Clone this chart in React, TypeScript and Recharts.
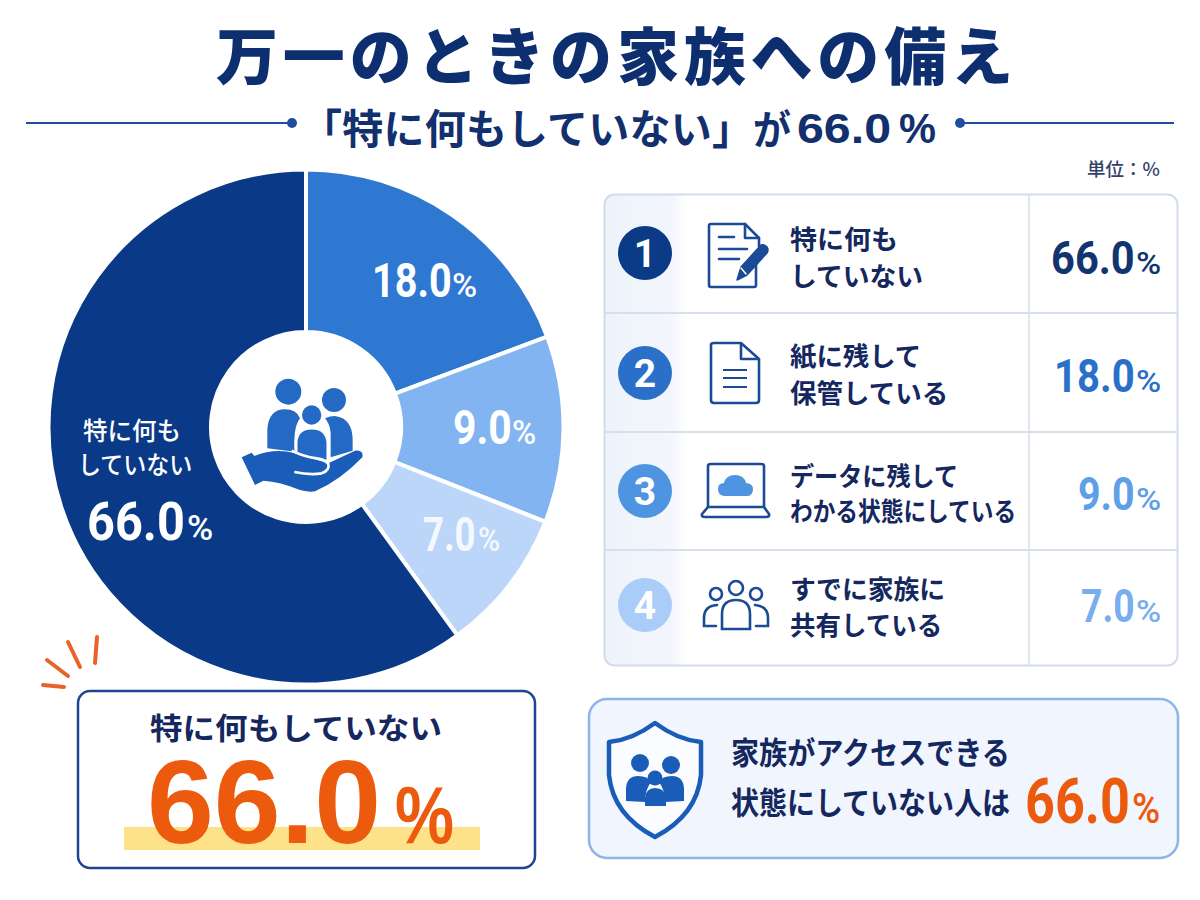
import React from 'react';
import { PieChart, Pie, Cell } from 'recharts';

const categories = ['特に何もしていない', '紙に残して保管している', 'データに残してわかる状態にしている', 'すでに家族に共有している'];
const printedValues = [66.0, 18.0, 9.0, 7.0];
// the wedges in the reference are not drawn to the printed percentages,
// so the slice sizes are read off the picture separately from the labels
const sliceShares = [60.0, 19.3, 11.7, 9.0];
const rowLabels = [
  ['特に何も', 'していない'],
  ['紙に残して', '保管している'],
  ['データに残して', 'わかる状態にしている'],
  ['すでに家族に', '共有している'],
];
const sliceColors = ['#0a3a87', '#2f78d2', '#82b4f2', '#bcd6f9'];
const badgeColors = ['#0b3a87', '#2a70c8', '#4f94e0', '#a9cdf8'];
const valueColors = ['#12346f', '#2a70c8', '#5f9fe8', '#78aeef'];

const pieOrder = [1, 2, 3, 0];
const pieData = pieOrder.map(i => ({ name: categories[i], share: sliceShares[i], fill: sliceColors[i] }));

const JP = '"Noto Sans CJK JP", "Noto Sans", sans-serif';
const NUM = 'Roboto, sans-serif';
const ARIAL = '"Liberation Sans", Arial, sans-serif';
const NAVY = '#14275e';
const ORANGE = '#ec5a0d';
const ICON = '#1b4a96';

const pct = (v: number) => v.toFixed(1);

// text squeezed with a transform; em is the natural width of the run in ems
const Squeezed: React.FC<any> = ({ x, y, size, w, em, fill = NAVY, font = JP, weight = 700, opacity, children }) => (
  <text
    transform={`translate(${x} ${y}) scale(${w / (em * size)} 1)`}
    fontSize={size}
    fontFamily={font}
    fontWeight={weight}
    fill={fill}
    opacity={opacity}
  >
    {children}
  </text>
);

// full-width japanese run: one em per character
const T: React.FC<any> = ({ children, ...rest }) => (
  <Squeezed em={String(children).length} {...rest}>
    {children}
  </Squeezed>
);

const Spaced: React.FC<any> = ({ x, y, size, w, fill, weight = 700, children }) => (
  <text x={x} y={y} fontSize={size} fontFamily={JP} fontWeight={weight} fill={fill} textLength={w} lengthAdjust="spacing">
    {children}
  </text>
);

const robotoEm = (s: string) => (s.length - 1) * 0.571 + 0.28;
const arialEm = (s: string) => (s.length - 1) * 0.556 + 0.278;

const Num: React.FC<any> = ({ v, x, px, y, size, psize, w, pw, fill, opacity }) => (
  <>
    <Squeezed x={x} y={y} size={size} w={w} em={robotoEm(pct(v))} fill={fill} font={NUM} opacity={opacity}>
      {pct(v)}
    </Squeezed>
    <Squeezed x={px} y={y} size={psize} w={pw} em={0.73} fill={fill} font={NUM} weight={500} opacity={opacity}>
      %
    </Squeezed>
  </>
);

const rowLayout = [
  { badgeY: 253, lines: [{ y: 249, w: 108 }, { y: 286, w: 134 }], val: { x: 1051, w: 83, y: 274 } },
  { badgeY: 373, lines: [{ y: 366, w: 132 }, { y: 403, w: 159 }], val: { x: 1054, w: 80, y: 392 } },
  { badgeY: 491, lines: [{ y: 486, w: 169 }, { y: 521, w: 227 }], val: { x: 1078, w: 56, y: 510 } },
  { badgeY: 605, lines: [{ y: 599, w: 155 }, { y: 635, w: 153 }], val: { x: 1081, w: 53, y: 622 } },
];

const DocPencilIcon = () => (
  <g fill="none" stroke={ICON} strokeWidth={2.6} strokeLinejoin="round" strokeLinecap="round">
    <path d="M756 264 V285 Q756 287 754 287 H711 Q709 287 709 285 V226 Q709 224 711 224 H745 L759 238 V246" />
    <path d="M745 224 V238 H759" />
    <path d="M719 237 H734 M719 249 H747 M719 259 H739" />
    <path d="M737 280 L741 267 L761 245 Q764 244 767 247 Q769 250 767 253 L747 275 Z" fill={ICON} strokeWidth={1.5} />
    <path d="M741 268 L746 274" stroke="#fff" strokeWidth={1.5} />
  </g>
);

const DocIcon = () => (
  <g fill="none" stroke={ICON} strokeWidth={2.6} strokeLinejoin="round">
    <path d="M711 345 Q711 343 714 343 H741 L759 359 V400 Q759 403 756 403 H714 Q711 403 711 400 Z" />
    <path d="M741 343 V359 H759" />
    <path d="M723 370 H747 M723 378 H747 M723 387 H747" strokeWidth={2} />
  </g>
);

const LaptopIcon = () => (
  <g fill="none" stroke={ICON} strokeWidth={2.6} strokeLinejoin="round">
    <path d="M708 507 V466 Q708 464 711 464 H761 Q764 464 764 466 V507" />
    <path d="M708 507 L702 514 Q701 517 705 517 H766 Q770 517 769 514 L764 507 Z" />
    <path d="M730 507 H742" strokeWidth={2} />
    <path
      d="M724 496 Q718 495 718 489 Q718 483 724 483 Q726 475 735 475 Q744 475 746 483 Q754 484 753 490 Q752 496 747 496 Z"
      fill="#4f94e0"
      stroke="none"
    />
  </g>
);

const PeopleIcon = () => (
  <g fill="none" stroke={ICON} strokeWidth={2.6} strokeLinecap="round">
    <circle cx={716} cy={594} r={6} />
    <circle cx={736} cy={588} r={7} />
    <circle cx={756} cy={594} r={6} />
    <path d="M722 629 V614 Q722 600 736 600 Q750 600 750 614 V629 Z" />
    <path d="M717 605 Q704 606 704 618 V626 H716" />
    <path d="M755 605 Q768 606 768 618 V626 H756" />
  </g>
);

// center icon is sketched in 3x crop coordinates
const FamilyHandIcon = () => (
  <g transform="translate(200 320) scale(0.3333)">
    <circle cx={265} cy={215} r={39} fill="#246ac4" />
    <circle cx={402} cy={240} r={36} fill="#246ac4" />
    <circle cx={335} cy={285} r={29} fill="#246ac4" />
    <path d="M202 385 V330 Q205 268 255 268 Q290 268 300 295 Q278 325 285 395 Z" fill="#246ac4" />
    <path d="M375 295 Q390 288 405 288 Q458 295 458 360 V392 L392 412 V340 Q390 312 375 295 Z" fill="#246ac4" />
    <path d="M288 405 V365 Q292 324 335 324 Q380 324 384 368 V425 Z" fill="#246ac4" stroke="#fff" strokeWidth={9} />
    <path
      d="M125 412 L155 398 L163 408 Q220 385 280 398 L385 430 L465 392 Q492 390 487 412 Q420 482 345 514 Q330 518 300 510 Q240 485 190 482 L165 495 Z"
      fill="#1a5db8"
    />
    <path d="M283 456 Q330 466 365 460 Q390 450 385 432 Q375 418 350 415 Q310 410 275 392" fill="none" stroke="#fff" strokeWidth={8} />
  </g>
);

const ShieldIcon = () => (
  <g>
    <path d="M655 723 Q632 740 609 742 V775 Q613 815 655 837 Q697 815 701 775 V742 Q678 740 655 723 Z" fill="#fafcff" stroke="#1a5db8" strokeWidth={4.5} strokeLinejoin="round" />
    <circle cx={640} cy={763} r={9} fill="#1a5db8" />
    <circle cx={671} cy={765} r={9} fill="#1a5db8" />
    <path d="M626 801 V788 Q627 776 638 776 Q648 776 651 782 Q645 790 645 802 Z" fill="#1a5db8" />
    <path d="M684 801 V788 Q683 776 672 776 Q662 776 659 782 Q665 790 665 802 Z" fill="#1a5db8" />
    <circle cx={655} cy={778} r={7.5} fill="#1a5db8" />
    <path d="M645 806 V798 Q646 788 655 788 Q665 788 666 798 V806 Z" fill="#1a5db8" />
  </g>
);

const rowIcons = [<DocPencilIcon />, <DocIcon />, <LaptopIcon />, <PeopleIcon />];

export default function App() {
  const headline = pct(printedValues[0]);
  return (
    <div style={{ position: 'absolute', left: 0, top: 0, width: 1200, height: 900, background: '#fff', overflow: 'hidden' }}>
      <div style={{ position: 'absolute', left: 0, top: 0 }}>
        <PieChart width={620} height={700} margin={{ top: 0, right: 0, bottom: 0, left: 0 }}>
          <Pie
            data={pieData}
            dataKey="share"
            nameKey="name"
            cx={306}
            cy={427}
            innerRadius={95}
            outerRadius={257.5}
            startAngle={90}
            endAngle={-270}
            stroke="#fff"
            strokeWidth={4}
            isAnimationActive={false}
          >
            {pieData.map(d => (
              <Cell key={d.name} fill={d.fill} />
            ))}
          </Pie>
        </PieChart>
      </div>

      <svg width={1200} height={900} style={{ position: 'absolute', left: 0, top: 0 }}>
        <defs>
          <linearGradient id="rankCol" x1="0" x2="1" y1="0" y2="0">
            <stop offset="0" stopColor="#eef3fb" />
            <stop offset="0.85" stopColor="#f3f6fc" />
            <stop offset="1" stopColor="#ffffff" />
          </linearGradient>
          <clipPath id="tableClip">
            <rect x={605} y={195} width={572} height={470} rx={10} />
          </clipPath>
        </defs>

        {/* heading */}
        <Spaced x={216} y={80} size={62} w={797} fill="#0d2f6f" weight={900}>万一のときの家族への備え</Spaced>
        <line x1={26} x2={290} y1={123} y2={123} stroke="#1f4e9e" strokeWidth={2} />
        <circle cx={292} cy={123} r={5} fill="#1f4e9e" />
        <line x1={962} x2={1174} y1={123} y2={123} stroke="#1f4e9e" strokeWidth={2} />
        <circle cx={960} cy={123} r={5} fill="#1f4e9e" />
        <Spaced x={301} y={144} size={41} w={452} fill="#12306e">「特に何もしていない」</Spaced>
        <T x={753} y={144} size={40} w={38} fill="#12306e">が</T>
        <Squeezed x={797} y={143} size={43} w={94} em={arialEm(headline)} fill="#12306e" font={ARIAL}>{headline}</Squeezed>
        <Squeezed x={899} y={143} size={43} w={37} em={0.889} fill="#12306e" font={ARIAL}>%</Squeezed>
        <text x={1087} y={176} fontSize={18.5} fontFamily={JP} fontWeight={500} fill="#33416a">単位：%</text>

        {/* pie labels */}
        <FamilyHandIcon />
        <Num v={printedValues[1]} x={372} px={452} y={297} size={48} psize={33} w={79} pw={25} fill="#fff" />
        <Num v={printedValues[2]} x={453} px={512} y={444} size={48} psize={33} w={58} pw={24} fill="#fff" />
        <Num v={printedValues[3]} x={423} px={478} y={551} size={48} psize={33} w={52} pw={22} fill="#fff" opacity={0.85} />
        <T x={83} y={440} size={25} w={98} fill="#fff" weight={500}>{rowLabels[0][0]}</T>
        <T x={78} y={474} size={25} w={115} fill="#fff" weight={500}>{rowLabels[0][1]}</T>
        <Num v={printedValues[0]} x={87} px={187} y={540} size={53} psize={36} w={97} pw={26} fill="#fff" />

        {/* ranking table */}
        <g clipPath="url(#tableClip)">
          <rect x={605} y={195} width={80} height={470} fill="url(#rankCol)" />
        </g>
        <rect x={604.5} y={194.5} width={573} height={471} rx={10} fill="none" stroke="#d3dcec" strokeWidth={2} />
        {[313, 432, 550].map(y => (
          <line key={y} x1={605} x2={1177} y1={y} y2={y} stroke="#d7dfed" strokeWidth={2} />
        ))}
        <line x1={1029} x2={1029} y1={195} y2={665} stroke="#d7dfed" strokeWidth={1.5} />
        {rowLayout.map((r, i) => (
          <g key={i}>
            <circle cx={645} cy={r.badgeY} r={27} fill={badgeColors[i]} />
            <text x={645} y={r.badgeY + 14} textAnchor="middle" fontSize={39} fontFamily={NUM} fontWeight={700} fill="#fff">
              {i + 1}
            </text>
            {rowIcons[i]}
            <T x={790} y={r.lines[0].y} size={26.5} w={r.lines[0].w}>{rowLabels[i][0]}</T>
            <T x={790} y={r.lines[1].y} size={26.5} w={r.lines[1].w}>{rowLabels[i][1]}</T>
            <Num v={printedValues[i]} x={r.val.x} px={1136} y={r.val.y} size={47} psize={32} w={r.val.w} pw={25} fill={valueColors[i]} />
          </g>
        ))}

        {/* callout, left */}
        <g stroke="#e8622a" strokeWidth={4} strokeLinecap="round">
          <line x1={43} y1={685} x2={64} y2={687} />
          <line x1={47} y1={660} x2={68} y2={676} />
          <line x1={68} y1={642} x2={80} y2={667} />
          <line x1={97} y1={637} x2={95} y2={663} />
        </g>
        <rect x={78} y={691} width={457} height={177} rx={12} fill="#fff" stroke="#1f4590" strokeWidth={2.5} />
        <T x={150} y={739} size={30} w={293}>{categories[0]}</T>
        <rect x={124} y={827} width={356} height={23} fill="#fde28a" />
        <Squeezed x={147} y={843} size={118} w={234} em={arialEm(headline)} fill={ORANGE} font={ARIAL}>{headline}</Squeezed>
        <Squeezed x={395} y={843} size={82} w={59} em={0.889} fill={ORANGE} font={ARIAL}>%</Squeezed>

        {/* callout, right */}
        <rect x={589} y={699} width={589} height={159} rx={18} fill="#f1f5fd" stroke="#8db5e8" strokeWidth={2.5} />
        <ShieldIcon />
        <T x={731} y={764} size={31} w={281}>家族がアクセスできる</T>
        <T x={731} y={814} size={31} w={280}>状態にしていない人は</T>
        <Num v={printedValues[0]} x={1025} px={1132} y={823} size={63} psize={42} w={104} pw={28} fill={ORANGE} />
      </svg>
    </div>
  );
}
